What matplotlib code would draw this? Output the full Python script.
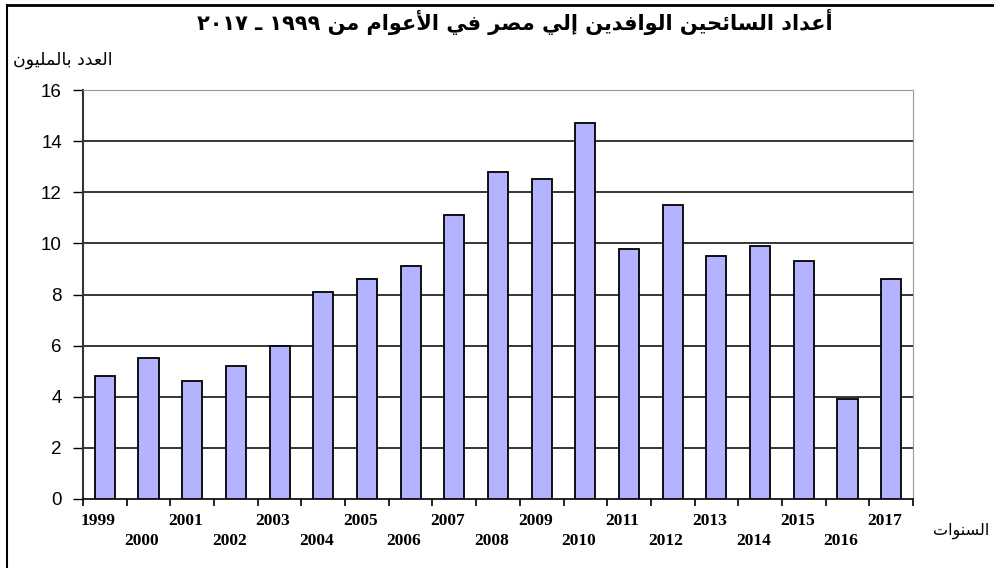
import matplotlib.pyplot as plt
import matplotlib.lines as mlines

years = ['1999', '2000', '2001', '2002', '2003', '2004', '2005', '2006', '2007', '2008',
         '2009', '2010', '2011', '2012', '2013', '2014', '2015', '2016', '2017']
tourists = [4.8, 5.5, 4.6, 5.2, 6.0, 8.1, 8.6, 9.1, 11.1, 12.8,
            12.5, 14.7, 9.8, 11.5, 9.5, 9.9, 9.3, 3.9, 8.6]
yticks = [0, 2, 4, 6, 8, 10, 12, 14, 16]

title_txt = 'أعداد السائحين الوافدين إلي مصر في الأعوام من ١٩٩٩ ـ ٢٠١٧'
ylabel_txt = 'العدد بالمليون'
xlabel_txt = 'السنوات'

# matplotlib has no arabic shaping, so do it by hand with presentation forms
FORMS = {
    'ا': ('\uFE8D', '\uFE8E', None, None),
    'أ': ('\uFE83', '\uFE84', None, None),
    'إ': ('\uFE87', '\uFE88', None, None),
    'د': ('\uFEA9', '\uFEAA', None, None),
    'ر': ('\uFEAD', '\uFEAE', None, None),
    'و': ('\uFEED', '\uFEEE', None, None),
    'ى': ('\uFEEF', '\uFEF0', None, None),
    'ب': ('\uFE8F', '\uFE90', '\uFE91', '\uFE92'),
    'ت': ('\uFE95', '\uFE96', '\uFE97', '\uFE98'),
    'ح': ('\uFEA1', '\uFEA2', '\uFEA3', '\uFEA4'),
    'س': ('\uFEB1', '\uFEB2', '\uFEB3', '\uFEB4'),
    'ص': ('\uFEB9', '\uFEBA', '\uFEBB', '\uFEBC'),
    'ع': ('\uFEC9', '\uFECA', '\uFECB', '\uFECC'),
    'ف': ('\uFED1', '\uFED2', '\uFED3', '\uFED4'),
    'ل': ('\uFEDD', '\uFEDE', '\uFEDF', '\uFEE0'),
    'م': ('\uFEE1', '\uFEE2', '\uFEE3', '\uFEE4'),
    'ن': ('\uFEE5', '\uFEE6', '\uFEE7', '\uFEE8'),
    'ي': ('\uFEF1', '\uFEF2', '\uFEF3', '\uFEF4'),
    'ئ': ('\uFE89', '\uFE8A', '\uFE8B', '\uFE8C'),
}
LAM_ALEF = {'ا': ('\uFEFB', '\uFEFC'), 'أ': ('\uFEF7', '\uFEF8'), 'إ': ('\uFEF9', '\uFEFA')}


def shape_word(word):
    out = []
    prev_joins = False
    i = 0
    while i < len(word):
        c = word[i]
        if c not in FORMS:
            out.append(c)
            prev_joins = False
            i += 1
            continue
        if c == 'ل' and i + 1 < len(word) and word[i + 1] in LAM_ALEF:
            iso, fin = LAM_ALEF[word[i + 1]]
            out.append(fin if prev_joins else iso)
            prev_joins = False
            i += 2
            continue
        iso, fin, ini, med = FORMS[c]
        next_joins = ini is not None and i + 1 < len(word) and word[i + 1] in FORMS
        if prev_joins and next_joins:
            out.append(med)
        elif prev_joins:
            out.append(fin)
        elif next_joins:
            out.append(ini)
        else:
            out.append(iso)
        prev_joins = ini is not None
        i += 1
    return ''.join(out)


def arabic(text):
    words = []
    for w in text.split(' '):
        if any(ch in FORMS for ch in w):
            words.append(shape_word(w)[::-1])
        else:
            words.append(w)
    return ' '.join(words[::-1])


fig = plt.figure(figsize=(9.94, 5.68), dpi=100)
ax = fig.add_axes([0.0835, 0.1215, 0.835, 0.72])

x = list(range(len(years)))
ax.set_axisbelow(True)
ax.bar(x, tourists, width=0.46, color='#b3b3ff', edgecolor='black', linewidth=1.3, zorder=3)

ax.set_xlim(-0.5, len(years) - 0.5)
ax.set_ylim(0, 16)
ax.set_yticks(yticks)
ax.set_yticklabels([str(v) for v in yticks], fontsize=13.5, family='Liberation Sans')
ax.tick_params(axis='y', length=7.2, width=1, pad=8, colors='black')
ax.set_xticks([i - 0.5 for i in range(len(years) + 1)])
ax.set_xticklabels([])
ax.tick_params(axis='x', length=5, width=1.2)

for v in yticks[1:]:
    ax.axhline(v, color='black', linewidth=1.1, zorder=1)

ax.spines['left'].set_linewidth(1.5)
ax.spines['left'].set_color('#333333')
ax.spines['bottom'].set_linewidth(1.2)
ax.spines['right'].set_color('#999999')
ax.spines['top'].set_color('#999999')

# years alternate between two rows
for i, yr in enumerate(years):
    ypos = -0.86 if i % 2 == 0 else -1.64
    ax.text(i - 0.15, ypos, yr, ha='center', va='center', fontsize=12.5,
            family='Liberation Serif', fontweight='bold')

fig.text(0.518, 0.961, arabic(title_txt), ha='center', va='center', fontsize=15,
         family='DejaVu Sans', fontweight='bold')
fig.text(0.013, 0.895, arabic(ylabel_txt), ha='left', va='center', fontsize=12.5,
         family='DejaVu Sans')
fig.text(0.995, 0.066, arabic(xlabel_txt), ha='right', va='center', fontsize=11.5,
         family='DejaVu Sans')

# frame lines on left and top of the image
fig.add_artist(mlines.Line2D([0.007, 0.007], [0, 0.991], color='black', linewidth=1.5))
fig.add_artist(mlines.Line2D([0.007, 1], [0.991, 0.991], color='black', linewidth=2))

fig.savefig('out.png', dpi=100)
